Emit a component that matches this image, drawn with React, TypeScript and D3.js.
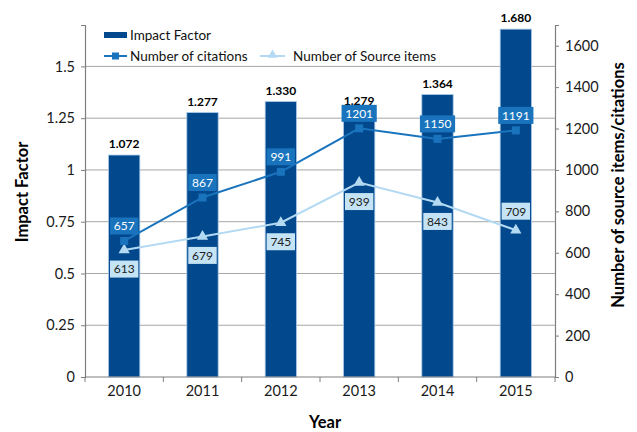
import React, { useEffect, useRef } from 'react';
import * as d3 from 'd3';

const years = ['2010', '2011', '2012', '2013', '2014', '2015'];
const impactFactor = [1.072, 1.277, 1.33, 1.279, 1.364, 1.68];
const citations = [657, 867, 991, 1201, 1150, 1191];
const sourceItems = [613, 679, 745, 939, 843, 709];
const leftTicks = [0, 0.25, 0.5, 0.75, 1, 1.25, 1.5];
const rightTicks = [0, 200, 400, 600, 800, 1000, 1200, 1400, 1600];
// label above (-1) or below (+1) the source-items point
const sourceLabelSide = [1, 1, 1, 1, 1, -1];

const FONT = 'Lato, "Open Sans", sans-serif';
const BAR = '#02488d';
const CIT = '#1a74bd';
const SRC = '#b3daf2';

export default function App() {
  const ref = useRef<SVGSVGElement>(null);

  useEffect(() => {
    const W = 637, H = 432;
    const m = { left: 85, right: 82, top: 25, bottom: 55 };
    const svg = d3.select(ref.current).attr('width', W).attr('height', H);
    svg.selectAll('*').remove();

    const x = d3.scaleBand().domain(years).range([m.left, W - m.right]).paddingInner(0.6).paddingOuter(0.3);
    const yL = d3.scaleLinear().domain([0, 1.7]).range([H - m.bottom, m.top]);
    const yR = d3.scaleLinear().domain([0, 1700]).range([H - m.bottom, m.top]);
    const cx = (d: string) => (x(d) as number) + x.bandwidth() / 2;

    // gridlines
    svg.append('g').selectAll('line').data(leftTicks.filter(t => t > 0)).enter().append('line')
      .attr('x1', m.left).attr('x2', W - m.right)
      .attr('y1', d => yL(d)).attr('y2', d => yL(d))
      .attr('stroke', '#a6a6a6').attr('stroke-width', 1);

    // bars
    svg.append('g').selectAll('rect').data(years).enter().append('rect')
      .attr('x', d => x(d) as number)
      .attr('width', x.bandwidth())
      .attr('y', (d, i) => yL(impactFactor[i]))
      .attr('height', (d, i) => yL(0) - yL(impactFactor[i]))
      .attr('fill', BAR).attr('stroke', '#a8c9e8').attr('stroke-width', 0.8);

    svg.append('g').selectAll('text').data(years).enter().append('text')
      .attr('x', cx).attr('y', (d, i) => yL(impactFactor[i]) - 7)
      .attr('text-anchor', 'middle').attr('font-family', FONT).attr('font-size', 12)
      .attr('font-weight', 'bold').attr('fill', '#000')
      .text((d, i) => impactFactor[i].toFixed(3));

    // axes
    const axisL = svg.append('g').attr('transform', `translate(${m.left},0)`)
      .call(d3.axisLeft(yL).tickValues(leftTicks).tickSize(4).tickPadding(6).tickFormat(d => String(d)));
    const axisR = svg.append('g').attr('transform', `translate(${W - m.right},0)`)
      .call(d3.axisRight(yR).tickValues(rightTicks).tickSize(4).tickPadding(6).tickFormat(d => String(d)));
    const axisB = svg.append('g').attr('transform', `translate(0,${H - m.bottom})`)
      .call(d3.axisBottom(x).tickSize(0).tickPadding(9));
    [axisL, axisR, axisB].forEach(a => {
      a.select('.domain').attr('stroke', '#7f7f7f').attr('stroke-width', 1.2);
      a.selectAll('.tick line').attr('stroke', '#7f7f7f');
      a.selectAll('text').attr('font-family', FONT).attr('font-size', 14.5).attr('fill', '#1a1a1a');
    });
    axisB.select('.domain').attr('d', `M${m.left},0H${W - m.right}`);
    // category boundary ticks
    const bounds = d3.range(years.length + 1).map(i => m.left + i * x.step());
    axisB.selectAll('.bound').data(bounds).enter().append('line')
      .attr('x1', d => d).attr('x2', d => d).attr('y1', 0).attr('y2', 5)
      .attr('stroke', '#7f7f7f');

    // lines
    const lineGen = (vals: number[]) => d3.line<string>().x(cx).y((d, i) => yR(vals[i]))(years);
    svg.append('path').attr('d', lineGen(sourceItems)).attr('fill', 'none').attr('stroke', SRC).attr('stroke-width', 2);
    svg.append('path').attr('d', lineGen(citations)).attr('fill', 'none').attr('stroke', CIT).attr('stroke-width', 2);

    const tri = d3.symbol().type(d3.symbolTriangle).size(55);
    svg.append('g').selectAll('path').data(years).enter().append('path')
      .attr('d', tri).attr('fill', SRC)
      .attr('transform', (d, i) => `translate(${cx(d)},${yR(sourceItems[i])})`);
    svg.append('g').selectAll('rect').data(years).enter().append('rect')
      .attr('x', d => cx(d) - 4).attr('y', (d, i) => yR(citations[i]) - 4)
      .attr('width', 8).attr('height', 8).attr('fill', CIT);

    // value boxes
    const addBoxes = (vals: number[], side: number[], off: number, fill: string, color: string) => {
      const g = svg.append('g').selectAll('g').data(years).enter().append('g')
        .attr('transform', (d, i) => `translate(${cx(d)},${yR(vals[i]) + side[i] * off})`);
      g.append('rect')
        .attr('x', (d, i) => -(String(vals[i]).length * 3.4 + 4)).attr('y', -8.5)
        .attr('width', (d, i) => String(vals[i]).length * 6.8 + 8).attr('height', 17)
        .attr('fill', fill);
      g.append('text').attr('text-anchor', 'middle').attr('dy', '0.36em')
        .attr('font-family', FONT).attr('font-size', 12).attr('fill', color)
        .text((d, i) => String(vals[i]));
    };
    addBoxes(citations, years.map(() => -1), 15, CIT, '#fff');
    addBoxes(sourceItems, sourceLabelSide, 19, '#c4e3f5', '#222');

    // axis titles
    svg.append('text').attr('transform', `translate(28,${(m.top + H - m.bottom) / 2 - 9}) rotate(-90)`)
      .attr('text-anchor', 'middle').attr('font-family', FONT).attr('font-size', 16.5).attr('font-weight', 'bold')
      .text('Impact Factor');
    svg.append('text').attr('transform', `translate(624,${(m.top + H - m.bottom) / 2 - 16}) rotate(-90)`)
      .attr('text-anchor', 'middle').attr('font-family', FONT).attr('font-size', 16.5).attr('font-weight', 'bold')
      .text('Number of source items/citations');
    svg.append('text').attr('x', (m.left + W - m.right) / 2 + 5).attr('y', 428)
      .attr('text-anchor', 'middle').attr('font-family', FONT).attr('font-size', 16.5).attr('font-weight', 'bold')
      .text('Year');

    // legend
    const lg = svg.append('g').attr('font-family', FONT).attr('font-size', 13.5).attr('fill', '#111');
    lg.append('rect').attr('x', 104).attr('y', 32).attr('width', 23).attr('height', 6).attr('fill', BAR);
    lg.append('text').attr('x', 130).attr('y', 35).attr('dy', '0.35em').text('Impact Factor');
    lg.append('line').attr('x1', 104).attr('x2', 127).attr('y1', 56).attr('y2', 56).attr('stroke', CIT).attr('stroke-width', 2);
    lg.append('rect').attr('x', 112).attr('y', 52.5).attr('width', 7).attr('height', 7).attr('fill', CIT);
    lg.append('text').attr('x', 130).attr('y', 56).attr('dy', '0.35em').text('Number of citations');
    lg.append('line').attr('x1', 260).attr('x2', 285).attr('y1', 56).attr('y2', 56).attr('stroke', SRC).attr('stroke-width', 2);
    lg.append('path').attr('d', d3.symbol().type(d3.symbolTriangle).size(40)).attr('fill', SRC)
      .attr('transform', 'translate(272.5,55)');
    lg.append('text').attr('x', 293).attr('y', 56).attr('dy', '0.35em').text('Number of Source items');
  }, []);

  return <svg ref={ref} style={{ position: 'absolute', left: 0, top: 0 }} />;
}
